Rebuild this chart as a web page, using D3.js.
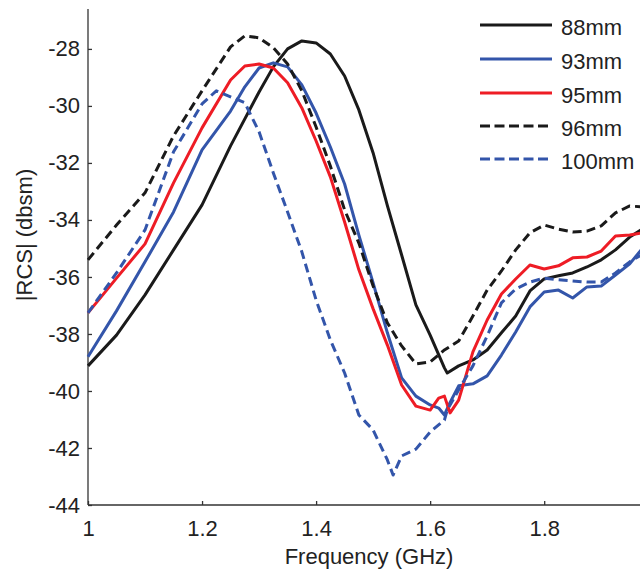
<!DOCTYPE html>
<html><head><meta charset="utf-8">
<script src="https://cdn.jsdelivr.net/npm/d3@7"></script>
<style>body{margin:0;background:#fff}svg{display:block}text{font-family:"Liberation Sans",Arial,sans-serif;fill:#222}</style>
</head><body><svg id="c" width="640" height="571"></svg>
<script>
const xTicks = [1, 1.2, 1.4, 1.6, 1.8];
const yTicks = [-44, -42, -40, -38, -36, -34, -32, -30, -28];
const seriesNames = ["88mm", "93mm", "95mm", "96mm", "100mm"];
const rcs88 = [[1.00,-39.12],[1.05,-38.04],[1.10,-36.63],[1.15,-35.05],[1.20,-33.47],[1.25,-31.40],[1.30,-29.51],[1.325,-28.63],[1.35,-28.00],[1.375,-27.72],[1.40,-27.79],[1.425,-28.18],[1.45,-28.95],[1.475,-30.14],[1.50,-31.65],[1.525,-33.50],[1.55,-35.23],[1.575,-36.98],[1.60,-38.04],[1.625,-39.19],[1.63,-39.37],[1.65,-39.12],[1.675,-38.91],[1.70,-38.56],[1.725,-37.96],[1.75,-37.37],[1.775,-36.49],[1.80,-36.07],[1.825,-35.96],[1.85,-35.86],[1.875,-35.65],[1.90,-35.40],[1.925,-35.05],[1.95,-34.60],[1.97,-34.35]];
const rcs93 = [[1.00,-38.80],[1.05,-37.19],[1.10,-35.47],[1.15,-33.72],[1.20,-31.54],[1.25,-30.18],[1.275,-29.33],[1.30,-28.67],[1.325,-28.49],[1.35,-28.63],[1.375,-29.26],[1.40,-30.25],[1.425,-31.44],[1.45,-32.74],[1.475,-34.53],[1.50,-36.21],[1.525,-37.96],[1.55,-39.54],[1.575,-40.18],[1.60,-40.49],[1.615,-40.60],[1.625,-40.84],[1.635,-40.40],[1.65,-39.82],[1.675,-39.75],[1.70,-39.47],[1.725,-38.74],[1.75,-37.93],[1.775,-37.05],[1.80,-36.53],[1.825,-36.46],[1.85,-36.74],[1.875,-36.35],[1.90,-36.32],[1.925,-35.93],[1.95,-35.54],[1.97,-35.05]];
const rcs95 = [[1.00,-37.26],[1.05,-36.04],[1.10,-34.84],[1.15,-32.70],[1.20,-30.77],[1.25,-29.09],[1.275,-28.60],[1.30,-28.53],[1.325,-28.67],[1.35,-29.19],[1.375,-30.07],[1.40,-31.23],[1.425,-32.49],[1.45,-34.07],[1.475,-35.75],[1.50,-37.12],[1.525,-38.39],[1.55,-39.79],[1.575,-40.53],[1.60,-40.67],[1.615,-40.25],[1.625,-40.18],[1.635,-40.77],[1.65,-40.32],[1.675,-38.63],[1.70,-37.51],[1.725,-36.60],[1.75,-36.07],[1.775,-35.58],[1.80,-35.72],[1.825,-35.61],[1.85,-35.33],[1.875,-35.30],[1.90,-35.09],[1.925,-34.56],[1.95,-34.53],[1.97,-34.46]];
const rcs96 = [[1.00,-35.40],[1.05,-34.18],[1.10,-33.05],[1.15,-31.05],[1.20,-29.47],[1.25,-27.93],[1.275,-27.54],[1.30,-27.61],[1.325,-27.96],[1.35,-28.53],[1.375,-29.47],[1.40,-30.74],[1.425,-32.11],[1.45,-33.65],[1.475,-34.81],[1.50,-36.32],[1.525,-37.61],[1.55,-38.42],[1.575,-39.05],[1.60,-38.98],[1.625,-38.56],[1.65,-38.25],[1.675,-37.37],[1.70,-36.46],[1.725,-35.79],[1.75,-35.05],[1.775,-34.45],[1.80,-34.18],[1.825,-34.32],[1.85,-34.42],[1.875,-34.39],[1.90,-34.21],[1.925,-33.75],[1.95,-33.51],[1.97,-33.54]];
const rcs100 = [[1.00,-37.26],[1.05,-35.86],[1.10,-34.35],[1.15,-31.61],[1.20,-29.93],[1.225,-29.47],[1.25,-29.68],[1.275,-29.89],[1.30,-30.91],[1.325,-32.35],[1.35,-33.72],[1.375,-35.12],[1.40,-36.81],[1.425,-38.21],[1.45,-39.37],[1.475,-40.84],[1.50,-41.37],[1.525,-42.42],[1.535,-42.95],[1.55,-42.28],[1.575,-42.04],[1.60,-41.44],[1.625,-41.02],[1.63,-40.67],[1.65,-39.96],[1.675,-39.12],[1.70,-38.07],[1.725,-36.91],[1.75,-36.42],[1.775,-36.18],[1.80,-36.04],[1.825,-36.10],[1.85,-36.14],[1.875,-36.18],[1.90,-36.18],[1.925,-35.86],[1.95,-35.47],[1.97,-35.23]];
const colors = ["#1a1a1a", "#3355aa", "#ee1c25", "#1a1a1a", "#3355aa"];
const dashes = [null, null, null, "9,5", "9,5"];
const allSeries = [rcs88, rcs93, rcs95, rcs96, rcs100];

const svg = d3.select("#c");
const x = d3.scaleLinear().domain([1, 1.968]).range([88, 640]);
const y = d3.scaleLinear().domain([-44, -26.6]).range([505, 9]);

const xAxis = d3.axisBottom(x).tickValues(xTicks).tickSize(-4).tickPadding(15).tickFormat(d3.format("~g"));
const yAxis = d3.axisLeft(y).tickValues(yTicks).tickSize(-4).tickPadding(8).tickFormat(d => d3.format("~g")(d).replace("−","-"));
const gx = svg.append("g").attr("transform","translate(0,505)").call(xAxis);
const gy = svg.append("g").attr("transform","translate(88,0)").call(yAxis);
[gx, gy].forEach(g => {
  g.select(".domain").attr("stroke","#333").attr("stroke-width",1.3);
  g.selectAll(".tick line").attr("stroke","#333").attr("stroke-width",1.3);
  g.selectAll(".tick text").style("font-size","22px").attr("fill","#222").style("font-family","'Liberation Sans',Arial,sans-serif");
});
gx.select(".domain").attr("d","M88,0H640");
gy.select(".domain").attr("d","M0,505V9");

const line = d3.line().x(d => x(d[0])).y(d => y(d[1]));
allSeries.forEach((s, i) => {
  svg.append("path").datum(s).attr("d", line).attr("fill","none")
    .attr("stroke", colors[i]).attr("stroke-width", 3).attr("stroke-linejoin","round")
    .attr("stroke-dasharray", dashes[i]);
});

const legY = [25, 59, 93, 126, 159];
seriesNames.forEach((n, i) => {
  svg.append("line").attr("x1",480).attr("x2",552).attr("y1",legY[i]).attr("y2",legY[i])
    .attr("stroke", colors[i]).attr("stroke-width",3).attr("stroke-dasharray", dashes[i] ? "10,4.5" : null);
  svg.append("text").attr("x",561).attr("y",legY[i]+10).style("font-size","22px").text(n);
});

svg.append("text").attr("x",369).attr("y",564).attr("text-anchor","middle").style("font-size","22px").text("Frequency (GHz)");
svg.append("text").attr("transform","translate(32,235) rotate(-90)").attr("text-anchor","middle").style("font-size","22px").text("|RCS| (dbsm)");
</script></body></html>
